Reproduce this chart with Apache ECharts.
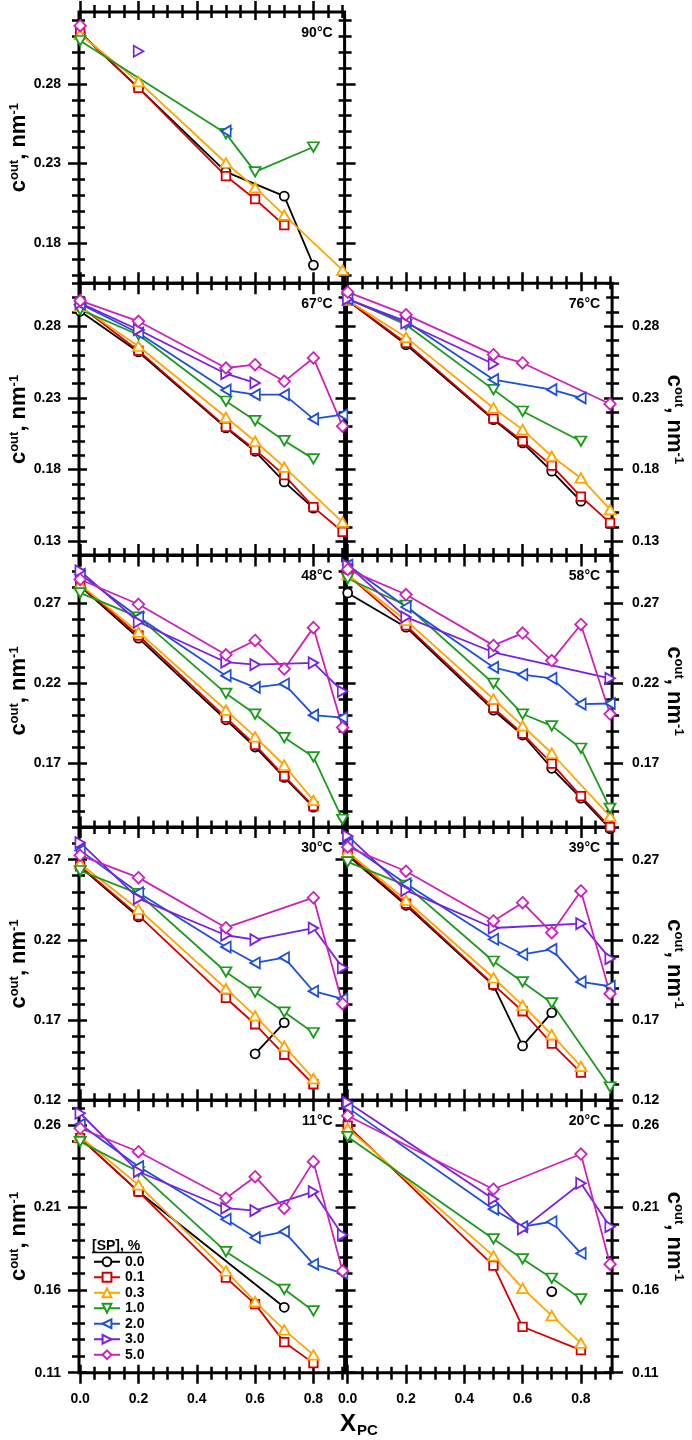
<!DOCTYPE html>
<html>
<head>
<meta charset="utf-8">
<script src="https://cdn.jsdelivr.net/npm/echarts@6.0.0/dist/echarts.min.js"></script>
<style>
html,body{margin:0;padding:0;background:#ffffff;}
#chart{width:692px;height:1440px;}
</style>
</head>
<body>
<div id="chart"></div>
<script>
// ---------------- data ----------------
const xPC = [0, 0.2, 0.5, 0.6, 0.7, 0.8, 0.9];
const spLevels = ['0.0', '0.1', '0.3', '1.0', '2.0', '3.0', '5.0'];
const xTickLabels = [0, 0.2, 0.4, 0.6, 0.8];

// rows: [SP] = 0.0, 0.1, 0.3, 1.0, 2.0, 3.0, 5.0 ; columns follow xPC ; '-' = line break
const c90 = [
  [0.312, 0.2775, 0.2248, null, 0.2096, 0.1664, null],
  [0.312, 0.2775, 0.2222, 0.2077, 0.1914, null, null],
  [0.311, 0.2814, 0.2304, 0.2150, 0.1977, null, 0.1633],
  [0.307, null, 0.2488, 0.2248, null, 0.2404, null],
  [null, null, 0.2504, null, null, null, null],
  [null, 0.3004, null, null, null, null, null],
  [0.3164, null, null, null, null, null, null]
];
const c67 = [
  [0.2905, 0.2621, 0.2091, 0.1928, 0.1714, 0.1531, null],
  [0.2940, 0.2630, 0.2098, 0.1939, 0.1761, 0.1538, 0.1366],
  [0.2939, 0.2661, 0.2165, 0.1998, 0.1817, null, 0.1433],
  [0.2916, 0.2741, 0.2277, 0.2142, 0.2002, 0.1875, null],
  [0.2956, 0.2753, 0.2355, 0.2323, 0.2323, 0.2154, 0.2184],
  [0.2962, 0.2776, 0.2469, 0.2405, null, null, null],
  [0.2979, 0.2835, 0.2509, 0.2532, 0.2416, 0.2579, 0.2103]
];
const c76 = [
  [0.2980, 0.2672, 0.2149, 0.1986, 0.1789, 0.1580, null],
  [0.2980, 0.2684, 0.2156, 0.1998, 0.1828, 0.1611, 0.1428],
  [0.2982, 0.2723, 0.2230, 0.2079, 0.1893, 0.1742, 0.1521],
  [0.2992, 0.2811, 0.2358, 0.2207, null, 0.1998, null],
  [0.2990, 0.2835, 0.2428, null, 0.2358, 0.2300, null],
  [0.2989, 0.2823, 0.2537, null, null, null, null],
  [0.3039, 0.2881, 0.2602, 0.2544, null, null, 0.2258]
];
const c48 = [
  [0.2805, 0.2480, 0.1970, 0.1800, 0.1610, 0.1424, null],
  [0.2811, 0.2497, 0.1984, 0.1813, 0.1618, 0.1430, null],
  [0.2815, 0.2518, 0.2031, 0.1863, 0.1686, 0.1466, null],
  [0.2763, 0.2612, 0.2135, 0.2006, 0.1859, 0.1738, 0.1347],
  [0.2880, 0.2612, 0.2246, 0.2173, 0.2194, 0.1999, 0.1984],
  [0.2901, 0.2581, 0.2330, 0.2315, null, 0.2326, 0.2148],
  [0.2847, 0.2692, 0.2376, 0.2466, 0.2288, 0.2546, 0.1922]
];
const c58 = [
  [0.2763, 0.2549, 0.2030, 0.1875, 0.1667, 0.1480, 0.1290],
  [0.2874, 0.2560, 0.2044, 0.1884, 0.1696, 0.1493, 0.1299],
  [0.2877, 0.2591, 0.2100, 0.1932, 0.1761, null, 0.1367],
  [0.2853, 0.2686, 0.2198, 0.2006, 0.1932, 0.1792, 0.1416],
  [0.2937, 0.2675, 0.2298, 0.2252, 0.2229, 0.2068, 0.2072],
  [0.2937, 0.2612, 0.2392, null, null, null, 0.2229],
  [0.2910, 0.2753, 0.2435, 0.2512, 0.2340, 0.2566, 0.2006]
];
const c30 = [
  [0.2655, 0.2343, '-', 0.1490, 0.1684, null, null],
  [0.2659, 0.2353, 0.1838, 0.1674, 0.1484, 0.1300, null],
  [0.2675, 0.2391, 0.1896, 0.1726, 0.1537, 0.1335, null],
  [0.2631, 0.2488, 0.2000, 0.1875, 0.1750, 0.1621, null],
  [0.2758, 0.2494, 0.2156, 0.2056, 0.2089, 0.1880, 0.1833],
  [0.2806, 0.2457, 0.2229, 0.2201, null, 0.2274, 0.2027],
  [0.2727, 0.2588, 0.2276, null, null, 0.2463, 0.1802]
];
const c39 = [
  [0.2727, 0.2416, 0.1917, 0.1539, 0.1746, null, null],
  [0.2738, 0.2426, 0.1921, 0.1755, 0.1553, 0.1372, null],
  [0.2748, 0.2447, 0.1964, 0.1792, 0.1609, 0.1411, null],
  [0.2686, 0.2540, 0.2067, 0.1938, 0.1807, null, 0.1283],
  [0.2800, 0.2550, 0.2204, 0.2110, 0.2141, 0.1938, 0.1911],
  [0.2848, 0.2509, 0.2274, null, null, 0.2301, 0.2083],
  [0.2779, 0.2628, 0.2318, 0.2432, 0.2245, 0.2505, 0.1865]
];
const c11 = [
  [0.2520, 0.2196, null, null, 0.1496, null, null],
  [0.2520, 0.2196, 0.1676, 0.1515, 0.1285, 0.1158, null],
  [0.2529, 0.2237, 0.1716, 0.1530, 0.1359, 0.1208, null],
  [0.2499, 0.2317, 0.1833, null, 0.1605, 0.1474, null],
  [0.2604, 0.2348, 0.2029, 0.1918, 0.1954, 0.1757, 0.1702],
  [0.2671, 0.2317, 0.2096, 0.2081, null, 0.2196, 0.1934],
  [0.2580, 0.2438, 0.2156, 0.2287, 0.2096, 0.2378, 0.1716]
];
const c20 = [
  [null, null, null, null, 0.1591, null, null],
  [0.2596, null, 0.1748, 0.1378, null, 0.1237, null],
  [0.2580, null, 0.1807, 0.1611, 0.1446, 0.1279, null],
  [0.2529, null, 0.1910, 0.1789, 0.1672, 0.1547, null],
  [0.2705, null, 0.2090, 0.1984, 0.2014, 0.1823, null],
  [0.2737, null, 0.2152, 0.1971, null, 0.2247, 0.1984],
  [0.2656, null, 0.2211, null, null, 0.2424, 0.1757]
];

// y tick labels per row of panels
const yTicksRow1 = [0.18, 0.23, 0.28];
const yTicksRow2 = [0.13, 0.18, 0.23, 0.28];
const yTicksRow3 = [0.17, 0.22, 0.27];
const yTicksRow4 = [0.12, 0.17, 0.22, 0.27];
const yTicksRow5 = [0.11, 0.16, 0.21, 0.26];
const yLimits = [[0.155, 0.325], [0.12, 0.31], [0.13, 0.30], [0.12, 0.29], [0.11, 0.275]];
const yTicks = [yTicksRow1, yTicksRow2, yTicksRow3, yTicksRow4, yTicksRow5];

const panels = [
  {T: '90°C', data: c90, row: 0, col: 0},
  {T: '67°C', data: c67, row: 1, col: 0},
  {T: '76°C', data: c76, row: 1, col: 1},
  {T: '48°C', data: c48, row: 2, col: 0},
  {T: '58°C', data: c58, row: 2, col: 1},
  {T: '30°C', data: c30, row: 3, col: 0},
  {T: '39°C', data: c39, row: 3, col: 1},
  {T: '11°C', data: c11, row: 4, col: 0},
  {T: '20°C', data: c20, row: 4, col: 1}
];

// ---------------- style / layout ----------------
const FONT = "'Liberation Sans', Arial, Helvetica, sans-serif";
const colors = ['#000000', '#d40000', '#ffa500', '#1c9a1c', '#1e4fd8', '#7b1fe0', '#cc22bb'];
const symbols = ['circle', 'rect',
  'path://M6,0L12,10L0,10Z', 'path://M0,0L12,0L6,10Z',
  'path://M0,6L10,0L10,12Z', 'path://M0,0L10,6L0,12Z', 'diamond'];
const symSizes = [9, 8.5, [11, 9.5], [11, 9.5], [9.5, 11], [9.5, 11], [11.5, 11.5]];

const colLeft = [79, 346.5];
const colWidth = 265.6;
const rowTop = [12, 283.3, 555, 827.6, 1100.2];
const rowHeight = [271.3, 272.3, 272, 272.7, 272.5];
const xMin = -0.004, xMax = 0.907;

function stepValues(min, max, step) {
  const out = [];
  const k0 = Math.ceil(min / step - 1e-6), k1 = Math.floor(max / step + 1e-6);
  for (let k = k0; k <= k1; k++) out.push(Math.round(k * step * 10000) / 10000);
  return out;
}
const xMinor = stepValues(0, 0.9, 0.05);

const labelStyle = {fontSize: 14, fontWeight: 'bold', color: '#000', fontFamily: FONT};
const tickLine = {color: '#000', width: 2.5};
const MAJ_OUT = 11, MAJ_IN = 8, MIN_OUT = 7, MIN_IN = 6;

const grids = [], xAxes = [], yAxes = [], series = [], graphics = [];

panels.forEach((p, gi) => {
  const left = colLeft[p.col], top = rowTop[p.row], h = rowHeight[p.row];
  const [ymin, ymax] = yLimits[p.row];
  const yMaj = yTicks[p.row];
  const yMin = stepValues(ymin, ymax, 0.01);
  const isBottom = p.row === 4;
  grids.push({left: left, top: top, width: colWidth, height: h, show: true,
    borderColor: '#000', borderWidth: 3, backgroundColor: 'transparent'});

  const mkX = (position, vals, lenOut, lenIn, withLabels) => ({
    type: 'value', gridIndex: gi, position: position, min: xMin, max: xMax, offset: -lenIn,
    axisLine: {show: false, onZero: false}, splitLine: {show: false},
    axisTick: {show: true, customValues: vals, length: lenOut + lenIn, lineStyle: tickLine},
    axisLabel: withLabels ? Object.assign({show: true, customValues: xTickLabels, margin: 19 + lenIn,
      formatter: v => Number(v).toFixed(1)}, labelStyle) : {show: false}
  });
  const xBase = xAxes.length;
  xAxes.push(mkX('bottom', xTickLabels, MAJ_OUT, MAJ_IN, isBottom));
  xAxes.push(mkX('bottom', xMinor, MIN_OUT, MIN_IN, false));
  xAxes.push(mkX('top', xTickLabels, MAJ_OUT, MAJ_IN, false));
  xAxes.push(mkX('top', xMinor, MIN_OUT, MIN_IN, false));

  const nameOpt = (position) => ({
    name: '{m|c}{s|out}{m|, nm}{s|-1}',
    nameLocation: 'middle',
    nameGap: 49 + MAJ_IN,
    nameRotate: position === 'left' ? 90 : -90,
    nameTextStyle: {color: '#000', fontFamily: FONT, fontWeight: 'bold', fontSize: 22,
      rich: {
        m: {fontSize: 22, fontWeight: 'bold', fontFamily: FONT, color: '#000', verticalAlign: 'bottom'},
        s: {fontSize: 13, fontWeight: 'bold', fontFamily: FONT, color: '#000', verticalAlign: 'top'}
      }}
  });
  const labelSide = p.col === 0 ? 'left' : 'right';
  const mkY = (position, vals, lenOut, lenIn, main) => Object.assign({
    type: 'value', gridIndex: gi, position: position, min: ymin, max: ymax, offset: -lenIn,
    axisLine: {show: false, onZero: false}, splitLine: {show: false},
    axisTick: {show: true, customValues: vals, length: lenOut + lenIn, lineStyle: tickLine},
    axisLabel: (main && position === labelSide) ? Object.assign({show: true, customValues: yMaj,
      margin: (position === 'left' ? 18 : 20) + lenIn,
      formatter: v => Number(v).toFixed(2)}, labelStyle) : {show: false}
  }, (main && position === labelSide) ? nameOpt(position) : {});
  const yBase = yAxes.length;
  yAxes.push(mkY('left', yMaj, MAJ_OUT, MAJ_IN, true));
  yAxes.push(mkY('left', yMin, MIN_OUT, MIN_IN, false));
  yAxes.push(mkY('right', yMaj, MAJ_OUT, MAJ_IN, true));
  yAxes.push(mkY('right', yMin, MIN_OUT, MIN_IN, false));

  p.data.forEach((vals, si) => {
    const d = [];
    vals.forEach((v, i) => { if (v !== null) d.push([xPC[i], v]); });
    series.push({
      type: 'line', name: spLevels[si], xAxisIndex: xBase, yAxisIndex: yBase, data: d,
      symbol: symbols[si], symbolSize: symSizes[si], showSymbol: true, showAllSymbol: true,
      clip: false, connectNulls: false, animation: false, silent: true,
      itemStyle: {color: '#ffffff', borderColor: colors[si], borderWidth: 1.8, opacity: 1},
      lineStyle: {color: colors[si], width: 1.8},
      emphasis: {disabled: true}
    });
  });

  graphics.push({type: 'text', x: left + colWidth - 12, y: top + 21, z: 10,
    style: {text: p.T, fontSize: 14, fontWeight: 'bold', fontFamily: FONT, fill: '#000',
      align: 'right', textAlign: 'right', verticalAlign: 'middle', textVerticalAlign: 'middle'}});
});

// X axis title
graphics.push({type: 'text', x: 340, y: 1424, z: 10,
  style: {text: 'X', fontSize: 24, fontWeight: 'bold', fontFamily: FONT, fill: '#000',
    align: 'left', textAlign: 'left', verticalAlign: 'middle', textVerticalAlign: 'middle'}});
graphics.push({type: 'text', x: 357, y: 1431, z: 10,
  style: {text: 'PC', fontSize: 15, fontWeight: 'bold', fontFamily: FONT, fill: '#000',
    align: 'left', textAlign: 'left', verticalAlign: 'middle', textVerticalAlign: 'middle'}});
// legend title
graphics.push({type: 'text', x: 92, y: 1246.5, z: 10,
  style: {text: '[SP], %', fontSize: 14, fontWeight: 'bold', fontFamily: FONT, fill: '#000',
    align: 'left', textAlign: 'left', verticalAlign: 'middle', textVerticalAlign: 'middle'}});
graphics.push({type: 'line', z: 10, shape: {x1: 92, y1: 1252.5, x2: 142, y2: 1252.5},
  style: {stroke: '#000', lineWidth: 1.3}});

const chart = echarts.init(document.getElementById('chart'), null, {renderer: 'canvas'});
chart.setOption({
  animation: false,
  backgroundColor: '#ffffff',
  grid: grids,
  xAxis: xAxes,
  yAxis: yAxes,
  series: series,
  legend: {
    orient: 'vertical', left: 93, top: 1254, padding: 0,
    itemWidth: 26, itemHeight: 11, itemGap: 0, selectedMode: false,
    textStyle: {fontSize: 14, fontWeight: 'bold', color: '#000', fontFamily: FONT, lineHeight: 15.5},
    data: spLevels
  },
  graphic: graphics
});
</script>
</body>
</html>
